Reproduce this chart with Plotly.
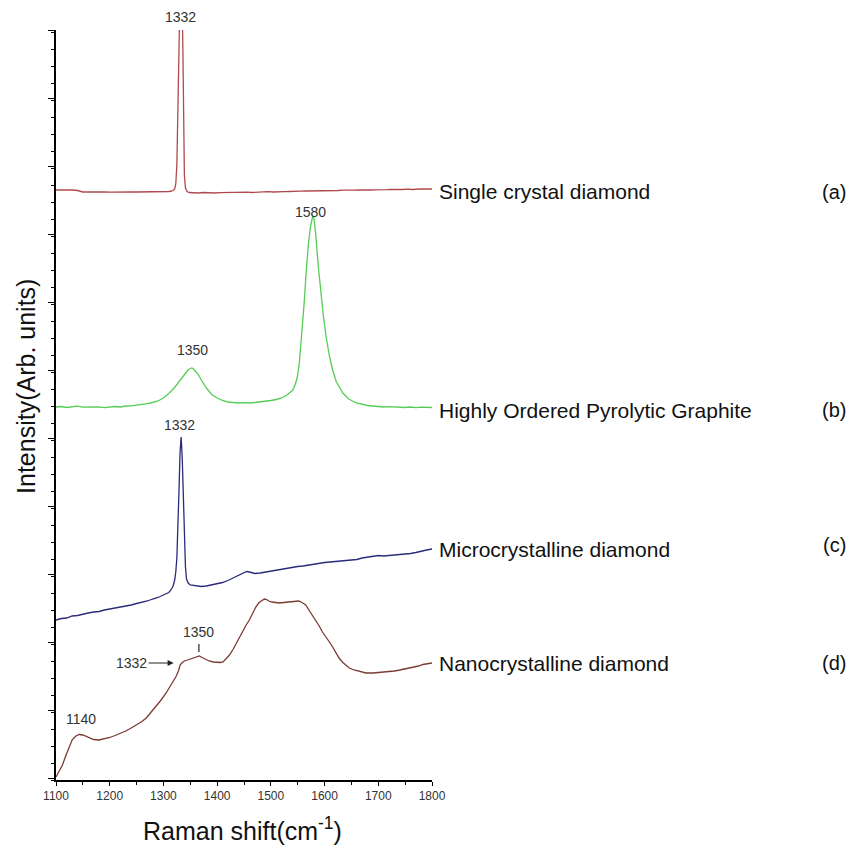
import plotly.graph_objects as go

# ---------------- data (Raman shift in cm^-1, intensity in arbitrary units, curves offset) ----------------
x_a = [1100,1110,1120,1130,1140,1150,1160,1170,1180,1190,1200,1210,1220,1230,1240,1250,1260,1270,1280,1290,
       1300,1305,1310,1315,1318,1321,1323,1325,1327,1329,1330,1331,1333,1335,1336,1337,1338,1339,1341,1344,
       1348,1355,1365,1375,1385,1395,1405,1415,1425,1435,1445,1455,1465,1475,1485,1495,1505,1515,1525,1535,
       1545,1555,1565,1575,1585,1595,1605,1615,1625,1635,1645,1655,1665,1675,1685,1695,1705,1715,1725,1735,
       1745,1755,1765,1775,1785,1795,1800]
y_a = [590,590,590.3,590,589.5,588,588,588.2,588,588,587.8,588,588,588.3,588,588,588,588.5,588,588,
       588.3,588,588.5,589,589.5,591,596,615,680,760,780,790,790,770,740,700,640,605,592,588.5,
       587.5,587.3,587,587.5,587,587,587.3,587.5,587,587.5,587.6,587.8,587.5,588,588,588.3,588,588.5,588.3,588.5,
       589,588.8,589,589,589.3,589,589.5,589.3,589.5,589.8,589.5,589.8,590,589.7,590,590.2,590,590.3,590.5,590.2,
       590.5,590.8,590.5,591,590.8,591.2,591]

x_b = [1100,1110,1120,1130,1140,1150,1160,1170,1180,1190,1200,1210,1220,1230,1240,1250,1260,1270,1280,1290,
       1300,1310,1320,1330,1340,1345,1350,1353,1356,1360,1365,1370,1375,1380,1390,1400,1410,1420,1430,1440,
       1450,1460,1470,1480,1490,1500,1510,1520,1530,1541,1545,1549,1553,1556,1559,1562,1566,1570,1574,1578,
       1580,1584,1588,1593,1598,1603,1609,1615,1622,1634,1645,1659,1670,1680,1690,1700,1710,1720,1730,1740,
       1750,1760,1770,1780,1790,1800]
y_b = [373,373.5,372.5,373,373.8,372.8,373,372.5,373.2,372.3,373,373.5,373,374,374.2,374.8,375.5,376.3,377.5,379,
       382,386.5,392,399.5,406.5,409.5,411.5,412,411,409,405.5,400.5,396,392,385.5,382,379.5,378,377.5,377,
       377.3,377,377.5,378,378.7,379.5,380.5,382,385,390,395,402,417,435,458,477,510,537,554,564,
       563,543,515,487,463,443,424,410,398,387,381,377,375.5,374.5,374,373.5,373,373.3,372.8,373,
       372.5,373,372.4,372.8,372.3,372.5]

x_c = [1100,1110,1120,1130,1140,1150,1160,1170,1180,1190,1200,1210,1220,1230,1240,1250,1260,1270,1280,1290,
       1300,1305,1310,1314,1318,1321,1323,1325,1327,1329,1331,1333,1335,1337,1339,1341,1343,1346,1350,1360,
       1370,1380,1390,1400,1410,1420,1430,1440,1450,1455,1460,1465,1470,1480,1490,1500,1510,1520,1530,1540,
       1550,1560,1570,1580,1590,1600,1610,1620,1630,1640,1650,1660,1670,1680,1690,1700,1710,1720,1730,1740,
       1750,1760,1770,1780,1790,1800]
y_c = [160,161.5,162,164,164.5,166,167,168,168.5,170,171,172,172.5,174,175,176.5,177.5,179,181,182.5,
       185,186,187.5,190,194,200,208,222,250,290,328,343,322,282,240,213,201,197,195,194,
       193.5,194,195,196.5,197.5,199.5,202,204.5,207.5,208.5,208,207,206.5,207,208,209,210,210.5,211.5,212.5,
       213.5,214,215,216,216.5,217.5,218,218.5,219,219.5,220,220.5,222,223,224,224.5,224,224.5,225,225,
       225.5,226.5,227.5,229,230,231]

x_d = [1100,1106,1112,1118,1124,1130,1137,1143,1150,1156,1162,1170,1180,1190,1200,1210,1220,1230,1240,1250,
       1260,1268,1276,1286,1295,1305,1314,1323,1328,1331,1335,1339,1345,1350,1355,1361,1367,1372,1378,1385,
       1393,1400,1406,1411,1417,1423,1430,1436,1441,1448,1454,1460,1466,1472,1478,1484,1488,1492,1496,1502,
       1508,1516,1524,1534,1542,1548,1552,1558,1565,1572,1578,1584,1590,1596,1603,1609,1615,1621,1627,1634,
       1640,1646,1655,1665,1677,1690,1700,1710,1720,1730,1740,1750,1757,1765,1775,1783,1789,1795,1800]
y_d = [3,9,15,24,33,40,44,45.5,45,43.5,42,40.5,40,41,42.5,44.5,46.5,49,52,55,
       58.5,62,67,73,79.5,87,95,103,109,115,117.5,119,120,121,122,123.5,124,122.5,120.5,119,
       118,117.5,117.5,118,121,125,131,137,142,150,155,160,167,173,177.5,180,181,180.5,179,178,
       177.5,177,177.5,178,178.5,179,179,177.5,175,169,164,160,154,148,143,138,133,127,122,117.5,
       114.5,112,110,108.5,107,107,107.5,108,108,109,110,111,112,113,114,115.5,116,117,117]

series_names = ["Single crystal diamond", "Highly Ordered Pyrolytic Graphite",
                "Microcrystalline diamond", "Nanocrystalline diamond"]
series_tags = ["(a)", "(b)", "(c)", "(d)"]
series_colors = ["#b04a4e", "#55cc55", "#2b2b7a", "#7a3b32"]

x_ticks = [1100, 1200, 1300, 1400, 1500, 1600, 1700, 1800]

FONT = "Liberation Sans, Arial, sans-serif"

fig = go.Figure()
for xs, ys, name, col in zip([x_a, x_b, x_c, x_d], [y_a, y_b, y_c, y_d], series_names, series_colors):
    fig.add_trace(go.Scatter(x=xs, y=ys, mode="lines", name=name,
                             line=dict(color=col, width=1.3), showlegend=False))

# curve labels (right side)
label_y = [0.784, 0.493, 0.307, 0.156]
tag_y = [0.784, 0.493, 0.313, 0.156]
for name, tag, ly, ty in zip(series_names, series_tags, label_y, tag_y):
    fig.add_annotation(text=name, xref="paper", yref="paper", x=1.013, y=ly,
                       xanchor="left", yanchor="middle", showarrow=False,
                       font=dict(family=FONT, size=21, color="#111"))
    fig.add_annotation(text=tag, xref="paper", yref="paper", x=2.07, y=ty,
                       xanchor="center", yanchor="middle", showarrow=False,
                       font=dict(family=FONT, size=20, color="#111"))

# peak labels
peak_labels = [("1332", 1332, 1.017), ("1350", 1355, 0.573), ("1580", 1573, 0.757),
               ("1332", 1329, 0.473), ("1350", 1366, 0.197), ("1140", 1146, 0.081)]
for txt, px, py in peak_labels:
    fig.add_annotation(text=txt, xref="x", yref="paper", x=px, y=py, showarrow=False,
                       xanchor="center", yanchor="middle",
                       font=dict(family=FONT, size=14, color="#333"))

# 1332 arrow label on nanocrystalline curve
fig.add_annotation(text="1332", xref="x", yref="y", x=1319, y=117, ax=-42, ay=0,
                   showarrow=True, arrowhead=2, arrowsize=1, arrowwidth=1.2, arrowcolor="#222",
                   font=dict(family=FONT, size=14, color="#333"))
# small tick marking 1350 on nanocrystalline curve
fig.add_shape(type="line", xref="x", yref="y", x0=1366, x1=1366, y0=128, y1=136,
              line=dict(color="#222", width=1.2))

# axis titles
fig.add_annotation(text="Intensity(Arb. units)", xref="paper", yref="paper", x=-0.078, y=0.525,
                   textangle=-90, showarrow=False, xanchor="center", yanchor="middle",
                   font=dict(family=FONT, size=25, color="#111"))
fig.add_annotation(text="Raman shift(cm<sup>-1</sup>)", xref="paper", yref="paper", x=0.497, y=-0.065,
                   showarrow=False, xanchor="center", yanchor="middle",
                   font=dict(family=FONT, size=25, color="#111"))

fig.update_xaxes(range=[1100, 1800], showline=True, linecolor="black", linewidth=1.5,
                 ticks="outside", ticklen=4, tickcolor="black", tickwidth=1.2,
                 tickvals=x_ticks, ticktext=[str(v) for v in x_ticks],
                 minor=dict(dtick=50, ticklen=3, ticks="outside", tickcolor="black"),
                 showgrid=False, zeroline=False,
                 tickfont=dict(family=FONT, size=12, color="#333"))
fig.update_yaxes(range=[0, 750], showline=True, linecolor="black", linewidth=1.5,
                 ticks="outside", ticklen=6, tickcolor="black", tickwidth=1.2,
                 tickmode="linear", tick0=2, dtick=68, showticklabels=False,
                 minor=dict(dtick=17, ticklen=3, ticks="outside", tickcolor="black"),
                 showgrid=False, zeroline=False)

fig.update_layout(width=857, height=845, margin=dict(l=56, r=425, t=30, b=65),
                  plot_bgcolor="white", paper_bgcolor="white", showlegend=False)

fig.write_html("out.html", config={"displayModeBar": False},
               post_script="document.body.style.margin='0px';document.body.style.padding='0px';")
